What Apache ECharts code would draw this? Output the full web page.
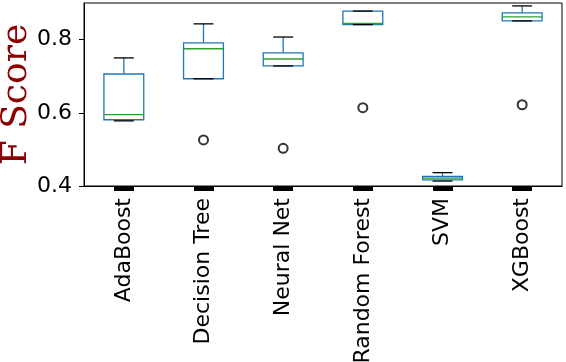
<!DOCTYPE html>
<html>
<head>
<meta charset="utf-8">
<script src="https://cdn.jsdelivr.net/npm/echarts@6/dist/echarts.min.js"></script>
<style>
html,body{margin:0;padding:0;background:#fff;}
#chart{width:566px;height:362px;}
</style>
</head>
<body>
<div id="chart"></div>
<script>
// 分类
var categories = ['AdaBoost', 'Decision Tree', 'Neural Net', 'Random Forest', 'SVM', 'XGBoost'];
// 箱线图各统计量
var lowWhisker  = [0.578, 0.693, 0.728, 0.841, 0.4135, 0.851];
var q1Values    = [0.581, 0.693, 0.728, 0.841, 0.417, 0.851];
var medianVals  = [0.595, 0.775, 0.747, 0.844, 0.4215, 0.862];
var q3Values    = [0.706, 0.791, 0.764, 0.878, 0.426, 0.873];
var highWhisker = [0.750, 0.843, 0.807, 0.878, 0.4365, 0.892];
// 异常点 [分类序号, 值]
var outliers = [[1, 0.526], [2, 0.503], [3, 0.614], [5, 0.622]];
// y轴刻度
var yTicks = [0.4, 0.6, 0.8];

var chart = echarts.init(document.getElementById('chart'));

var boxData = [];
for (var i = 0; i < categories.length; i++) {
	boxData.push([i, lowWhisker[i], q1Values[i], medianVals[i], q3Values[i], highWhisker[i]]);
}

function renderBox(params, api) {
	var x = api.value(0);
	var lo = api.coord([x, api.value(1)]);
	var q1 = api.coord([x, api.value(2)]);
	var md = api.coord([x, api.value(3)]);
	var q3 = api.coord([x, api.value(4)]);
	var hi = api.coord([x, api.value(5)]);
	var bw = api.size([1, 0])[0] * 0.5;
	var cx = lo[0];
	var blue = {stroke: '#1f77b4', lineWidth: 1.3, fill: null};
	return {
		type: 'group',
		children: [
			// 须线
			{type: 'line', shape: {x1: cx, y1: q3[1], x2: cx, y2: hi[1]}, style: blue},
			{type: 'line', shape: {x1: cx, y1: q1[1], x2: cx, y2: lo[1]}, style: blue},
			// 箱体
			{type: 'rect', shape: {x: cx - bw / 2, y: q3[1], width: bw, height: q1[1] - q3[1]}, style: blue},
			// 中位数
			{type: 'line', shape: {x1: cx - bw / 2, y1: md[1], x2: cx + bw / 2, y2: md[1]},
				style: {stroke: '#2ca02c', lineWidth: 1.3}},
			// 须端
			{type: 'line', shape: {x1: cx - bw / 4, y1: hi[1], x2: cx + bw / 4, y2: hi[1]},
				style: {stroke: '#000', lineWidth: 1.3}},
			{type: 'line', shape: {x1: cx - bw / 4, y1: lo[1], x2: cx + bw / 4, y2: lo[1]},
				style: {stroke: '#000', lineWidth: 1.3}}
		]
	};
}

var option = {
	animation: false,
	backgroundColor: '#fff',
	grid: {
		left: 84,
		right: 4,
		top: 3,
		bottom: 176,
		outerBoundsMode: 'none',
		show: true,
		borderColor: '#000',
		borderWidth: 1
	},
	xAxis: {
		type: 'category',
		data: categories,
		boundaryGap: true,
		axisLine: {show: true, lineStyle: {color: '#000', width: 1}},
		axisTick: {
			show: true,
			alignWithLabel: true,
			interval: 0,
			length: 5,
			lineStyle: {color: '#000', width: 20}
		},
		axisLabel: {
			rotate: 90,
			interval: 0,
			margin: 12,
			color: '#000',
			fontSize: 22,
			fontFamily: 'DejaVu Sans'
		},
		splitLine: {show: false}
	},
	yAxis: {
		type: 'value',
		min: 0.4,
		max: 0.9,
		interval: 0.2,
		name: 'F Score',
		nameLocation: 'middle',
		nameGap: 49,
		nameMoveOverlap: false,
		nameTextStyle: {
			color: '#8b0000',
			fontSize: 36,
			fontFamily: 'DejaVu Serif'
		},
		axisLine: {show: true, lineStyle: {color: '#000', width: 1}},
		axisTick: {show: true, length: 5, lineStyle: {color: '#000'}, customValues: yTicks},
		axisLabel: {
			margin: 12,
			color: '#000',
			fontSize: 22,
			fontFamily: 'DejaVu Sans',
			customValues: yTicks,
			formatter: function (v) { return v.toFixed(1); }
		},
		splitLine: {show: false}
	},
	series: [
		{
			type: 'custom',
			renderItem: renderBox,
			data: boxData,
			encode: {x: 0, y: [1, 2, 3, 4, 5]},
			z: 3
		},
		{
			type: 'scatter',
			data: outliers,
			symbol: 'emptyCircle',
			symbolSize: 9,
			itemStyle: {color: '#000', borderColor: '#000', borderWidth: 1.3},
			z: 4
		}
	]
};
chart.setOption(option);
</script>
</body>
</html>
